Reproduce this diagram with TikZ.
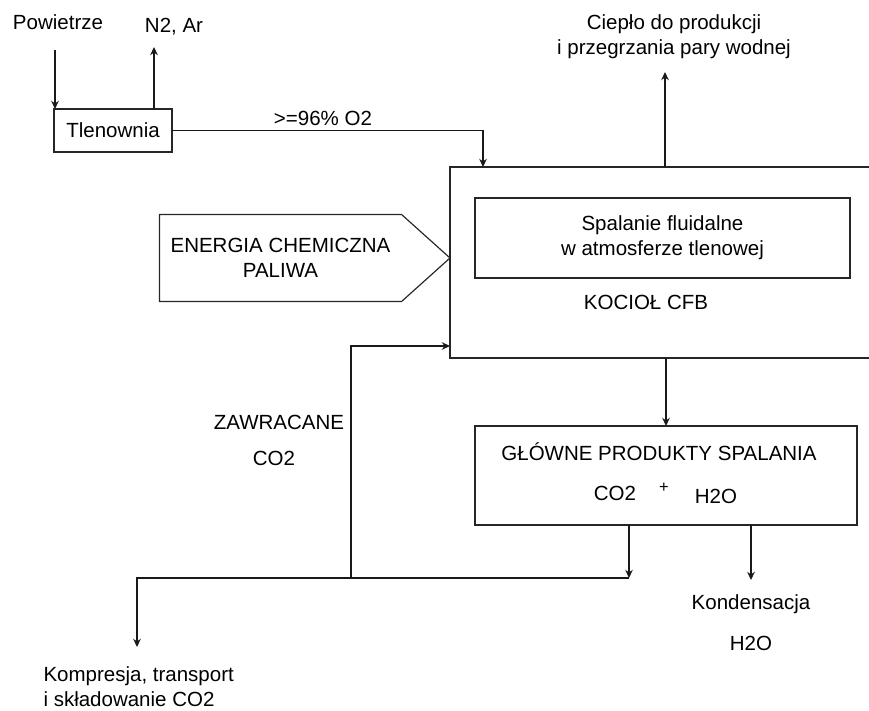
\documentclass[tikz,border=0pt]{standalone}
\usepackage{fontspec}
\setmainfont{Liberation Sans}
\usetikzlibrary{arrows.meta, positioning, calc}

\begin{document}
\begin{tikzpicture}[
    x=0.03cm, y=-0.03cm,
    >={Stealth[length=7pt, width=6.5pt]},
    font=\fontsize{17.5}{21.5}\selectfont,
    line width=0.9pt,
    box/.style={rectangle, draw=black!85, line width=1pt, inner sep=0pt, outer sep=0pt, align=center},
    txt/.style={inner sep=0pt, align=center},
    flow/.style={->, draw=black!90}
]
\useasboundingbox (0,0) rectangle (869,711);

% Nodes
\node[box, minimum width=3.54cm, minimum height=1.29cm] (tlen) at (113,130.5) {Tlenownia};
\node[txt] (powietrze) at (58,22) {Powietrze};
\node[txt] (n2) at (174,27) {N2, Ar};
\node[txt] (o2) at (323,118) {>=96\% O2};
\node[box, minimum width=12.63cm, minimum height=5.73cm] (kociol) at (660.5,262.5) {};
\node[box, minimum width=11.25cm, minimum height=2.4cm] (spalanie) at (662.5,238) {Spalanie fluidalne\\w atmosferze tlenowej};
\node[txt] (cfb) at (646,302) {KOCIOŁ CFB};
\node[txt] (cieplo) at (674,37) {Ciepło do produkcji\\i przegrzania pary wodnej};
\node[minimum width=7.23cm, minimum height=2.58cm, inner sep=0pt, align=center] (energia) at (280.5,258) {ENERGIA CHEMICZNA\\PALIWA};
\node[box, minimum width=11.46cm, minimum height=2.97cm] (produkty) at (666,475.5) {};
\node[txt] (glowne) at (659,452) {GŁÓWNE PRODUKTY SPALANIA};
\node[txt] (co2) at (615,493) {CO2};
\node[txt, font=\fontsize{14}{16}\selectfont] (plus) at (664,488) {+};
\node[txt] (h2o) at (716,496) {H2O};
\node[txt] (zawr) at (279,422) {ZAWRACANE};
\node[txt] (zawrco2) at (274,458) {CO2};
\node[txt] (kond) at (751,604) {Kondensacja};
\node[txt] (kondh2o) at (751,643) {H2O};
\node[txt, align=left, anchor=west] (kompr) at (43,687) {Kompresja, transport\\i składowanie CO2};

% Free ends
\coordinate (pin) at (55,50);
\coordinate (nout) at (154,47);
\coordinate (o2in) at (483,166);
\coordinate (heat) at (665,72);
\coordinate (jct) at (629,578);
\coordinate (rsplit) at (351,578);
\coordinate (rin) at (450,346);
\coordinate (kout) at (137,647);
\coordinate (hout) at (751,580);

% Links
\draw[flow] (pin) -- (pin |- tlen.north);
\draw[flow] (nout |- tlen.north) -- (nout);
\draw[flow] (tlen.east) -| (o2in |- kociol.north);
\draw[flow] (kociol.north -| heat) -- (heat);
\draw[flow] (kociol.south -| produkty.north) -- (produkty.north);
\draw[flow] (produkty.south -| jct) -- (jct);
\draw[flow] (jct) -| (kout);
\draw[flow] (rsplit) |- (kociol.west |- rin);
\draw[flow] (produkty.south -| hout) -- (hout);

% Fuel energy arrow
\draw[draw=black!85, line width=1pt] (energia.north west) -- (energia.north east)
    -- (energia.east -| kociol.west) -- (energia.south east) -- (energia.south west) -- cycle;

\end{tikzpicture}
\end{document}
